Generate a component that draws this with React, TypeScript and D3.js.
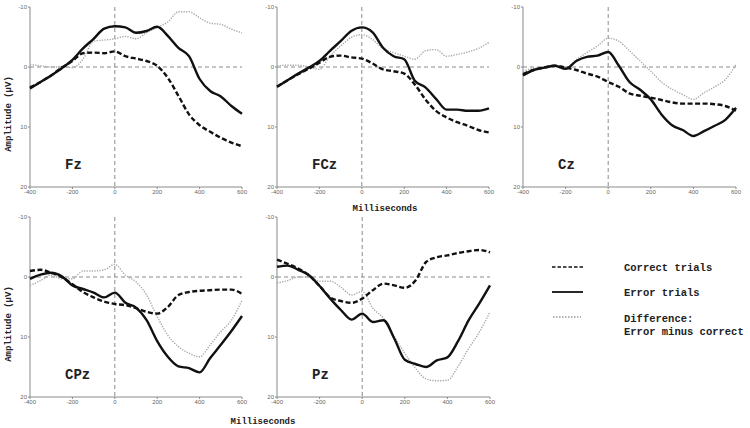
import React from "react";
import * as d3 from "d3";

const timeMs = [-400, -350, -300, -250, -200, -150, -100, -50, 0, 50, 100, 150, 200, 250, 300, 350, 400, 450, 500, 550, 600];
const msTicks = [-400, -200, 0, 200, 400, 600];
const ampTicks = [-10, 0, 10, 20];

const fzCorrect = [3.4, 2.5, 1.4, 0.1, -1.0, -2.3, -2.4, -2.3, -2.6, -1.8, -1.4, -1.0, -0.2, 1.8, 4.8, 7.9, 9.7, 10.8, 11.8, 12.6, 13.2];
const fzError = [3.6, 2.5, 1.4, 0.2, -1.2, -3.1, -4.7, -6.4, -6.8, -6.6, -5.7, -6.0, -6.7, -5.2, -3.2, -1.8, 2.0, 4.0, 4.9, 6.5, 7.8];
const fzDiff = [-0.4, -0.2, 0, 0, 0.1, -1.3, -4.3, -4.5, -4.7, -5.1, -4.7, -5.7, -6.6, -7.5, -9.2, -9.2, -8.2, -7.3, -7.1, -6.3, -5.7];

const fczCorrect = [3.3, 2.2, 1.2, 0.3, -0.7, -1.7, -1.9, -1.6, -1.4, -0.6, 0.4, 0.7, 1.1, 2.9, 5.4, 7.3, 8.4, 9.2, 9.8, 10.5, 10.9];
const fczError = [3.3, 2.2, 1.1, 0.1, -1.0, -2.7, -4.3, -6.0, -6.6, -5.8, -3.2, -1.8, -1.3, 2.3, 3.4, 5.3, 7.1, 7.1, 7.3, 7.3, 6.9];
const fczDiff = [-0.2, -0.3, -0.3, 0, 0.4, -1.8, -3.5, -4.9, -5.4, -4.6, -3.1, -2.4, -1.8, -1.3, -2.7, -2.9, -1.8, -2.1, -2.5, -3.1, -4.1];

const czCorrect = [1.2, 0.5, 0.1, -0.2, 0.1, 0.5, 1.1, 1.6, 2.5, 3.3, 4.4, 4.8, 5.1, 5.5, 5.9, 6.1, 6.1, 6.1, 6.2, 6.5, 7.3];
const czError = [1.4, 0.5, 0.1, -0.2, 0.3, -1.0, -1.7, -1.9, -2.5, -0.2, 2.5, 3.8, 5.4, 7.9, 9.7, 10.5, 11.5, 10.7, 9.8, 8.8, 6.8];
const czDiff = [0.7, 0.2, 0, 0, 0.3, -1.2, -2.4, -3.5, -4.8, -4.3, -2.7, -1.0, 0.7, 2.5, 3.7, 4.6, 5.4, 4.3, 3.3, 2.1, -0.4];

const cpzCorrect = [-1.0, -1.2, -0.7, 0, 1.2, 2.5, 3.4, 4.1, 4.5, 4.7, 5.2, 5.8, 6.1, 5.0, 3.0, 2.5, 2.3, 2.2, 2.1, 2.1, 2.8];
const cpzError = [0.3, -0.4, -0.7, -0.1, 1.4, 2.0, 2.6, 3.4, 2.6, 4.3, 5.1, 7.2, 10.7, 13.3, 14.9, 15.2, 15.9, 13.5, 11.3, 9.0, 6.5];
const cpzDiff = [1.4, 0.6, -0.3, 0.3, 0.3, -1.0, -1.0, -1.2, -2.1, -0.3, 0.8, 3.0, 6.6, 9.7, 11.6, 12.7, 13.3, 11.3, 9.1, 7.2, 3.9];

const pzCorrect = [-2.9, -2.2, -1.4, -0.3, 1.5, 3.4, 4.0, 4.3, 3.6, 2.2, 1.1, 1.4, 1.8, 0.6, -2.5, -3.3, -3.6, -4.0, -4.3, -4.5, -4.1];
const pzError = [-1.7, -1.9, -1.2, -0.3, 1.5, 3.6, 5.5, 7.1, 6.1, 7.5, 7.2, 10.2, 13.8, 14.5, 15.0, 13.9, 13.4, 10.7, 7.2, 4.4, 1.4];
const pzDiff = [1.0, 0.6, 0, 0, 0.7, 0.7, 1.7, 3.0, 2.4, 5.2, 6.9, 9.9, 12.7, 15.2, 17.0, 17.3, 17.2, 14.9, 11.9, 9.2, 5.8];

const electrodes = ["Fz", "FCz", "Cz", "CPz", "Pz"];
const legendLabels = ["Correct trials", "Error trials", "Difference:", "Error minus correct"];

const panels = [
  { name: electrodes[0], x0: 30, x1: 242, top: 7, bottom: 187, correct: fzCorrect, error: fzError, diff: fzDiff, amp: true },
  { name: electrodes[1], x0: 277, x1: 489, top: 7, bottom: 187, correct: fczCorrect, error: fczError, diff: fczDiff, amp: false },
  { name: electrodes[2], x0: 523, x1: 736, top: 7, bottom: 187, correct: czCorrect, error: czError, diff: czDiff, amp: false },
  { name: electrodes[3], x0: 30, x1: 242, top: 217, bottom: 397, correct: cpzCorrect, error: cpzError, diff: cpzDiff, amp: true },
  { name: electrodes[4], x0: 277, x1: 490, top: 217, bottom: 397, correct: pzCorrect, error: pzError, diff: pzDiff, amp: false },
];

const mono = "'Liberation Mono', 'DejaVu Sans Mono', monospace";
const axisColor = "#8a8a8a";
const tickColor = "#666";

function Panel({ p }: { p: any }) {
  const x = d3.scaleLinear().domain([-400, 600]).range([p.x0, p.x1]);
  const y = d3.scaleLinear().domain([-10, 20]).range([p.top, p.bottom]);
  const line = (vals: number[]) =>
    d3
      .line<number>()
      .x((_, i) => x(timeMs[i]))
      .y((v) => y(v))
      .curve(d3.curveMonotoneX)(vals) || "";
  return (
    <g>
      {/* zero lines */}
      <line x1={x(-400)} x2={x(600)} y1={y(0)} y2={y(0)} stroke={axisColor} strokeWidth={1} strokeDasharray="4,3" />
      <line x1={x(0)} x2={x(0)} y1={y(-10)} y2={y(20)} stroke={axisColor} strokeWidth={1} strokeDasharray="4,3" />
      {/* axes */}
      <line x1={x(-400)} x2={x(-400)} y1={y(-10)} y2={y(20)} stroke={axisColor} strokeWidth={1} />
      <line x1={x(-400)} x2={x(600)} y1={y(20)} y2={y(20)} stroke={axisColor} strokeWidth={1} />
      {ampTicks.map((t) => (
        <g key={"y" + t}>
          <line x1={x(-400) - 2} x2={x(-400)} y1={y(t)} y2={y(t)} stroke={axisColor} />
          <text x={x(-400) - 3} y={y(t)} dy="0.32em" textAnchor="end" fontSize={6} fill={tickColor} fontFamily="'Liberation Sans', Arial, sans-serif">
            {t}
          </text>
        </g>
      ))}
      {msTicks.map((t) => (
        <g key={"x" + t}>
          <line x1={x(t)} x2={x(t)} y1={y(20)} y2={y(20) + 2} stroke={axisColor} />
          <text x={x(t)} y={y(20) + 7} textAnchor="middle" fontSize={6} fill={tickColor} fontFamily="'Liberation Sans', Arial, sans-serif">
            {t}
          </text>
        </g>
      ))}
      <path d={line(p.diff)} fill="none" stroke="#a8a8a8" strokeWidth={1.4} strokeDasharray="1.3,1.3" />
      <path d={line(p.correct)} fill="none" stroke="#111" strokeWidth={2.4} strokeDasharray="5,2.5" />
      <path d={line(p.error)} fill="none" stroke="#111" strokeWidth={2.4} />
      <text x={x(-400) + 35} y={y(17)} fontSize={14} fontWeight="bold" fontFamily={mono} fill="#222">
        {p.name}
      </text>
      {p.amp && (
        <text
          transform={`translate(${x(-400) - 19},${(p.top + p.bottom) / 2 + 17}) rotate(-90)`}
          textAnchor="middle"
          fontSize={9}
          fontWeight="bold"
          fontFamily={mono}
          fill="#222"
        >
          Amplitude (µV)
        </text>
      )}
    </g>
  );
}

export default function App() {
  return (
    <svg width={750} height={428} style={{ position: "absolute", left: 0, top: 0, background: "#fff" }}>
      <rect width={750} height={428} fill="#fff" />
      {panels.map((p) => (
        <Panel key={p.name} p={p} />
      ))}
      <text x={385} y={211} textAnchor="middle" fontSize={9} fontWeight="bold" fontFamily={mono} fill="#222">
        Milliseconds
      </text>
      <text x={263} y={424} textAnchor="middle" fontSize={9} fontWeight="bold" fontFamily={mono} fill="#222">
        Milliseconds
      </text>
      <g>
        <line x1={552} x2={583} y1={267} y2={267} stroke="#111" strokeWidth={1.5} strokeDasharray="3.5,2" />
        <line x1={552} x2={583} y1={292} y2={292} stroke="#111" strokeWidth={1.8} />
        <line x1={553} x2={581} y1={317} y2={317} stroke="#999" strokeWidth={1.5} strokeDasharray="1.5,1.5" />
        <text x={624} y={267} dy="0.35em" fontSize={10.5} fontWeight="bold" fontFamily={mono} fill="#222">{legendLabels[0]}</text>
        <text x={624} y={292} dy="0.35em" fontSize={10.5} fontWeight="bold" fontFamily={mono} fill="#222">{legendLabels[1]}</text>
        <text x={624} y={318} dy="0.35em" fontSize={10.5} fontWeight="bold" fontFamily={mono} fill="#222">{legendLabels[2]}</text>
        <text x={624} y={331} dy="0.35em" fontSize={10.5} fontWeight="bold" fontFamily={mono} fill="#222">{legendLabels[3]}</text>
      </g>
    </svg>
  );
}
